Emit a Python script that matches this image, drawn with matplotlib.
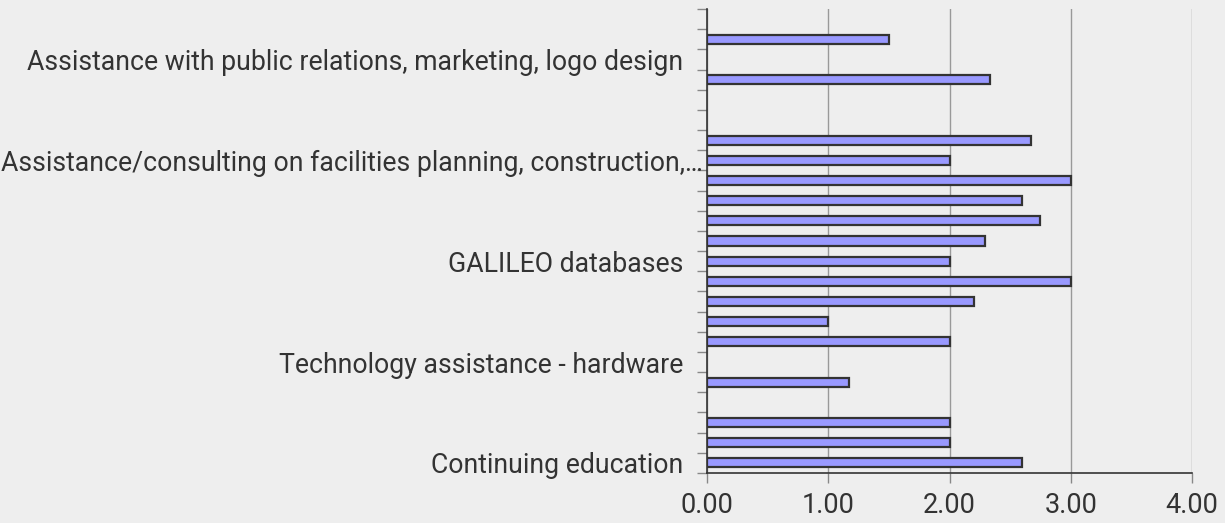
import numpy as np
import matplotlib.pyplot as plt

plt.rcParams['font.family'] = ['Roboto', 'DejaVu Sans']

# values from top row to bottom row (0 = no bar)
values = [0, 1.5, 0, 2.33, 0, 0, 2.67, 2.0, 3.0, 2.6, 2.75, 2.29, 2.0,
          3.0, 2.2, 1.0, 2.0, 0, 1.17, 0, 2.0, 2.0, 2.6]
shown_labels = ['Continuing education', 'Technology assistance - hardware',
                'GALILEO databases',
                'Assistance/consulting on facilities planning, construction,\u2026',
                'Assistance with public relations, marketing, logo design']
label_rows = [0, 5, 10, 15, 20]  # counted from bottom
x_ticks = [0, 1, 2, 3, 4]

n = len(values)
vals = np.array(values[::-1])
ypos = np.arange(n)
mask = vals > 0

fig = plt.figure(figsize=(12.25, 5.23), dpi=100, facecolor='#eeeeee')
ax = fig.add_axes([707/1225, 1 - 473/523, (1192 - 707)/1225, (473 - 9)/523])
ax.set_facecolor('#eeeeee')

ax.barh(ypos[mask], vals[mask], height=0.45, color='#9999ff',
        edgecolor='#333333', linewidth=1.6, zorder=3)

ax.set_xlim(0, 4)
ax.set_ylim(-0.5, n - 0.5)
ax.set_xticks(x_ticks)
ax.set_xticklabels(['%.2f' % v for v in x_ticks], fontsize=19.5, color='#333333')
ax.xaxis.grid(True, color='#999999', linewidth=1, zorder=0)

ax.set_yticks(np.arange(n + 1) - 0.5)
ax.set_yticklabels([])
ax.tick_params(axis='y', which='major', length=7, color='#888888', width=1)
ax.tick_params(axis='x', length=7, color='#888888', width=1, pad=7)

# category labels (the long one sticks out a bit, like the original)
for lab, r in zip(shown_labels, label_rows):
    xoff = -4 if lab.endswith('\u2026') else -24
    ax.text(xoff / 485, r, lab, transform=ax.get_yaxis_transform(),
            ha='right', va='center_baseline', fontsize=19.2, color='#333333')

for s in ['top', 'right']:
    ax.spines[s].set_visible(False)
ax.spines['left'].set_color('#333333')
ax.spines['bottom'].set_color('#333333')
ax.spines['left'].set_linewidth(1.2)
ax.spines['bottom'].set_linewidth(1.2)

fig.savefig('out.png', dpi=100, facecolor='#eeeeee')
